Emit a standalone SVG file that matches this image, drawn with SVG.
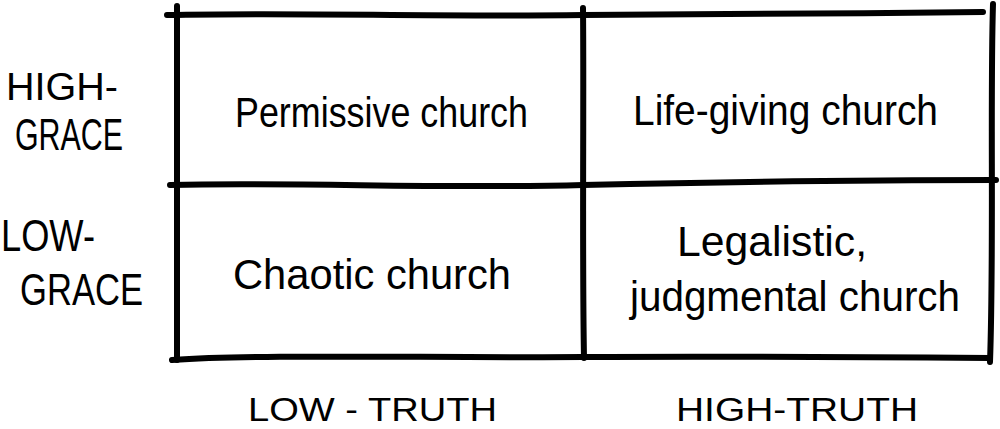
<svg xmlns="http://www.w3.org/2000/svg" width="1000" height="429" viewBox="0 0 1000 429">
<style>
.ln{fill:none;stroke:#000;stroke-width:6;stroke-linecap:round;stroke-linejoin:round}
.t{font-family:"Liberation Sans","DejaVu Sans",sans-serif;fill:#000;font-weight:normal}
.cell{font-size:42px}
.ax{font-size:38px}
.axs{font-size:34px}
.axb{font-size:44px}
</style>
<rect width="1000" height="429" fill="#fff"/>
<g id="connectors">
<path class="ln" d="M167,15 C300,12 420,17 583,15 C720,13 850,14 983,12"/>
<path class="ln" d="M170,185 C300,182 440,189 583,185 C720,182 860,180 996,180"/>
<path class="ln" d="M172,360 C260,354 420,358 583,357 C720,356 860,357 990,358"/>
<path class="ln" d="M177,6 C176,100 178,200 177,360"/>
<path class="ln" d="M583,8 C584,100 582,250 584,358"/>
<path class="ln" d="M993,4 C990,100 994,250 990,362"/>
</g>
<g id="row-labels">
<text class="t ax" x="6" y="100" textLength="112" lengthAdjust="spacingAndGlyphs">HIGH-</text>
<text class="t axb" x="15" y="150" textLength="108" lengthAdjust="spacingAndGlyphs">GRACE</text>
<text class="t axb" x="1" y="251" textLength="94" lengthAdjust="spacingAndGlyphs">LOW-</text>
<text class="t axb" x="20" y="305" textLength="123" lengthAdjust="spacingAndGlyphs">GRACE</text>
</g>
<g id="col-labels">
<text class="t axs" x="248" y="421" textLength="249" lengthAdjust="spacingAndGlyphs">LOW - TRUTH</text>
<text class="t axs" x="676" y="421" textLength="242" lengthAdjust="spacingAndGlyphs">HIGH-TRUTH</text>
</g>
<g id="cell-permissive">
<text class="t cell" x="235" y="127" textLength="293" lengthAdjust="spacingAndGlyphs">Permissive church</text>
</g>
<g id="cell-life-giving">
<text class="t cell" x="633" y="125" textLength="305" lengthAdjust="spacingAndGlyphs">Life-giving church</text>
</g>
<g id="cell-chaotic">
<text class="t cell" x="233" y="289" textLength="278" lengthAdjust="spacingAndGlyphs">Chaotic church</text>
</g>
<g id="cell-legalistic">
<text class="t cell" x="677" y="256" textLength="190" lengthAdjust="spacingAndGlyphs">Legalistic,</text>
<text class="t cell" x="630" y="311" textLength="330" lengthAdjust="spacingAndGlyphs">judgmental church</text>
</g>
</svg>
